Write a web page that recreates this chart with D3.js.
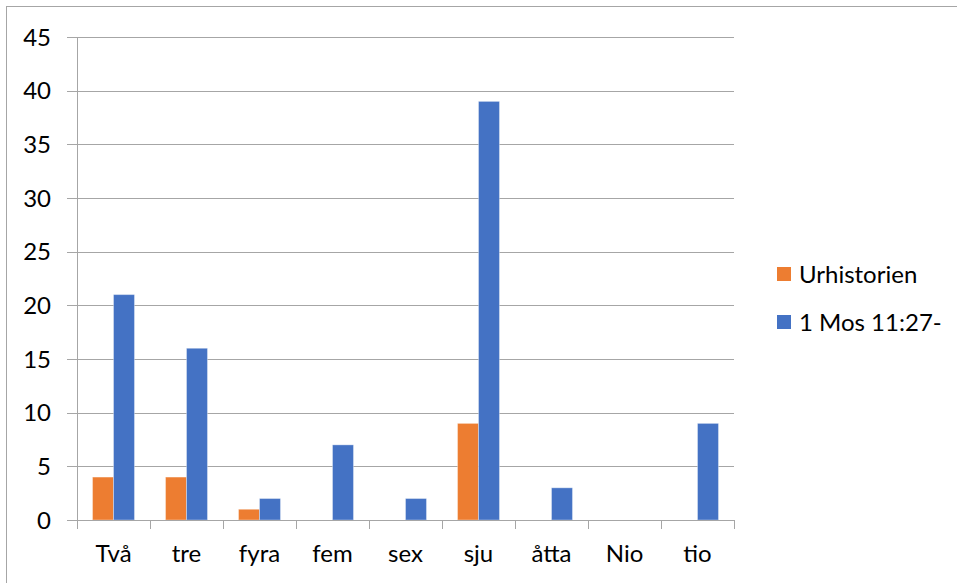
<!DOCTYPE html>
<html>
<head>
<meta charset="utf-8">
<script src="https://d3js.org/d3.v7.min.js"></script>
<style>
  body { margin: 0; background: #fff; overflow: hidden; }
  text { font-family: Lato, "Open Sans", sans-serif; fill: #000; }
</style>
</head>
<body>
<svg id="chart" width="957" height="583"></svg>
<script>
const categories = ['Två', 'tre', 'fyra', 'fem', 'sex', 'sju', 'åtta', 'Nio', 'tio'];
const seriesNames = ['Urhistorien', '1 Mos 11:27-'];
const urhistorien = [4, 4, 1, 0, 0, 9, 0, 0, 0];
const mos = [21, 16, 2, 7, 2, 39, 3, 0, 9];
const yTicks = [0, 5, 10, 15, 20, 25, 30, 35, 40, 45];
const colors = ['#ed7d31', '#4472c4'];

const svg = d3.select('#chart');

// outer frame (cut off on right and bottom, as in the picture)
svg.append('rect')
    .attr('x', 6.5).attr('y', 6.5)
    .attr('width', 1000).attr('height', 1000)
    .attr('fill', 'none').attr('stroke', '#a6a6a6').attr('stroke-width', 1);

const plotLeft = 77, plotRight = 734, plotTop = 37, plotBottom = 520;

const x = d3.scaleBand().domain(categories).range([plotLeft, plotRight]).paddingInner(0).paddingOuter(0);
const xs = d3.scaleBand().domain(seriesNames).range([0, x.bandwidth()]).paddingInner(0).paddingOuter(0.74);
const y = d3.scaleLinear().domain([0, 45]).range([plotBottom, plotTop]);

// gridlines
svg.append('g')
    .selectAll('line')
    .data(yTicks)
    .enter().append('line')
    .attr('x1', plotLeft - 10).attr('x2', plotRight)
    .attr('y1', d => Math.round(y(d)) + 0.5).attr('y2', d => Math.round(y(d)) + 0.5)
    .attr('stroke', '#a6a6a6').attr('stroke-width', 1);

// y axis line
svg.append('line')
    .attr('x1', plotLeft + 0.5).attr('x2', plotLeft + 0.5)
    .attr('y1', plotTop).attr('y2', plotBottom + 9)
    .attr('stroke', '#a6a6a6');

// y tick labels
svg.append('g')
    .selectAll('text')
    .data(yTicks)
    .enter().append('text')
    .attr('x', 51).attr('y', d => y(d))
    .attr('dy', '0.36em')
    .attr('text-anchor', 'end')
    .style('font-size', '24px')
    .text(d => d);

// bars
const rows = categories.map((c, i) => ({ cat: c, vals: [urhistorien[i], mos[i]] }));
const groups = svg.append('g')
    .selectAll('g')
    .data(rows)
    .enter().append('g')
    .attr('transform', d => `translate(${x(d.cat)},0)`);

groups.selectAll('rect')
    .data(d => d.vals.map((v, j) => ({ name: seriesNames[j], v, j })).filter(d => d.v > 0))
    .enter().append('rect')
    .attr('x', d => xs(d.name))
    .attr('width', xs.bandwidth())
    .attr('y', d => y(d.v))
    .attr('height', d => y(0) - y(d.v))
    .attr('fill', d => colors[d.j])
    .attr('stroke', 'rgba(255,255,255,0.35)')
    .attr('stroke-width', 1);

// x axis line and ticks
svg.append('line')
    .attr('x1', plotLeft).attr('x2', plotRight + 1)
    .attr('y1', plotBottom + 0.5).attr('y2', plotBottom + 0.5)
    .attr('stroke', '#a6a6a6');

svg.append('g')
    .selectAll('line')
    .data(categories.concat(['end']))
    .enter().append('line')
    .attr('x1', (d, i) => Math.round(plotLeft + i * x.bandwidth()) + 0.5)
    .attr('x2', (d, i) => Math.round(plotLeft + i * x.bandwidth()) + 0.5)
    .attr('y1', plotBottom).attr('y2', plotBottom + 9)
    .attr('stroke', '#a6a6a6');

// x labels
svg.append('g')
    .selectAll('text')
    .data(categories)
    .enter().append('text')
    .attr('x', d => x(d) + x.bandwidth() / 2)
    .attr('y', 562)
    .attr('text-anchor', 'middle')
    .style('font-size', '24px')
    .text(d => d);

// legend
const legend = svg.append('g')
    .selectAll('g')
    .data(seriesNames)
    .enter().append('g')
    .attr('transform', (d, i) => `translate(777,${267 + i * 48})`);

legend.append('rect')
    .attr('width', 14).attr('height', 14)
    .attr('fill', (d, i) => colors[i]);

legend.append('text')
    .attr('x', 22).attr('y', 7)
    .attr('dy', '0.36em')
    .style('font-size', '24px')
    .text(d => d);
</script>
</body>
</html>
